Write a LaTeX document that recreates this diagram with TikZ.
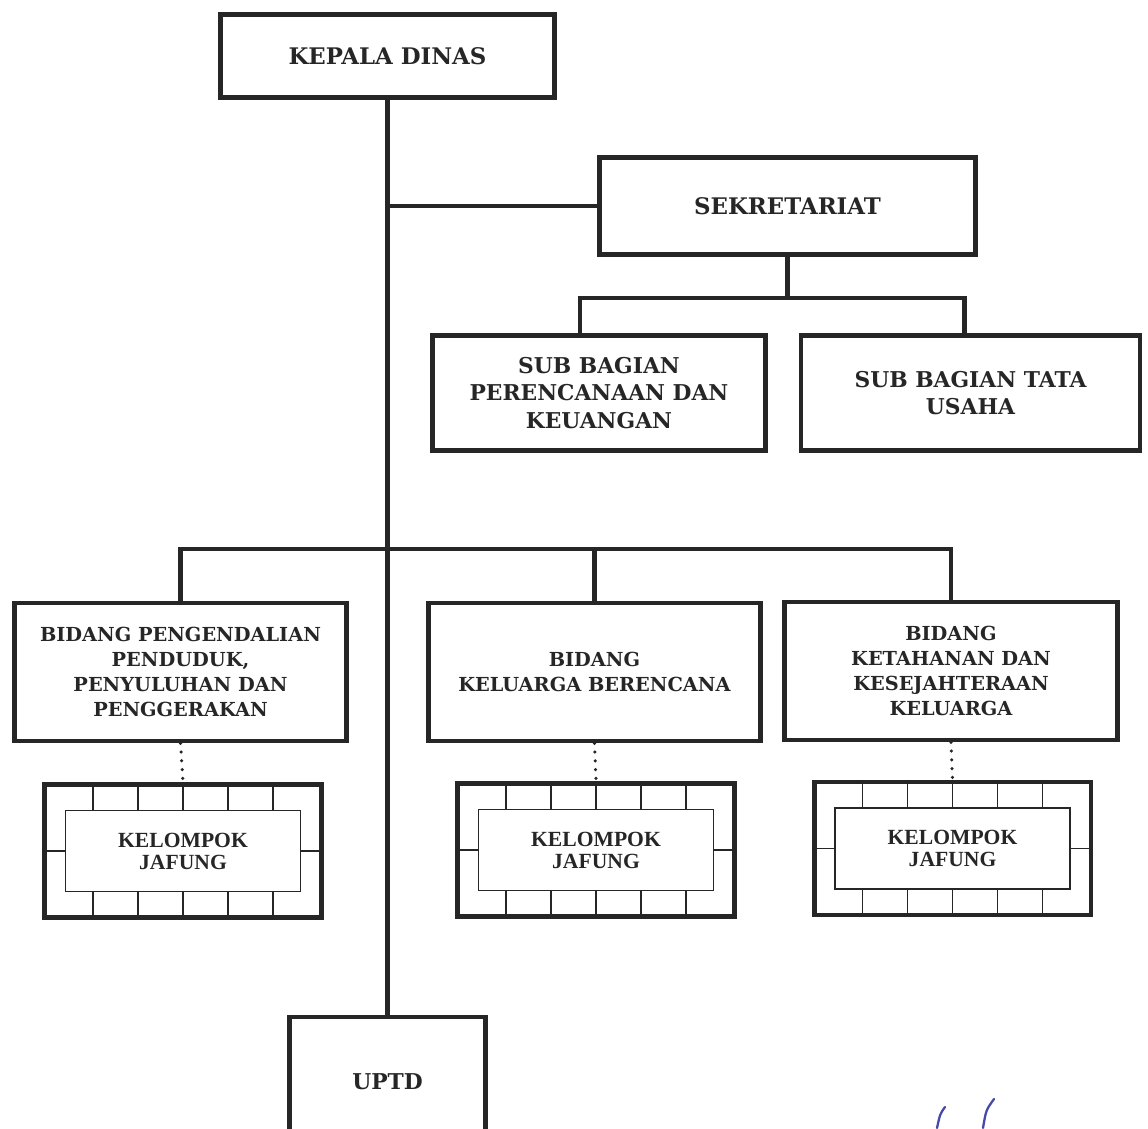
\documentclass[tikz,border=0pt]{standalone}
\usepackage{fontspec}
\setmainfont{DejaVu Serif}
\newfontfamily\jafungfont{Liberation Serif}
\usepackage{tikz}
\usetikzlibrary{positioning,calc}
\definecolor{paraf_c}{RGB}{70,72,170}

\begin{document}
\begin{tikzpicture}[
  x=0.02cm, y=-0.02cm,
  every node/.style={font=\fontsize{11}{14.2}\selectfont\bfseries, text=black!85},
  unit/.style={draw=black!85, line width=2.6pt, align=center, inner sep=2pt},
  topunit/.style={unit, font=\fontsize{13}{16}\selectfont\bfseries},
  subunit/.style={unit, font=\fontsize{12.4}{15.8}\selectfont\bfseries},
  link/.style={draw=black!85, line width=2.3pt},
  dotlink/.style={draw=black!85, line width=2pt, line cap=round, dash pattern=on 0pt off 5pt},
  jafbox/.style={draw=black!85, line width=2.8pt, minimum width=5.54cm, minimum height=2.66cm},
  jafin/.style={draw=black!85, line width=0.8pt, minimum width=4.7cm, minimum height=1.62cm,
                align=center, font=\jafungfont\fontsize{12.3}{12.5}\selectfont\bfseries},
  brick/.style={draw=black!85, line width=0.8pt},
  sign/.style={draw=paraf_c, line width=1.3pt, line cap=round},
]
\useasboundingbox (0,0) rectangle (1148,1128);

% top levels
\node[topunit, minimum width=6.68cm, minimum height=1.66cm] (kadis) at (387.5,56) {KEPALA DINAS};
\node[topunit, minimum width=7.52cm, minimum height=1.94cm] (sekre) at (787.5,206) {SEKRETARIAT};
\node[subunit, minimum width=6.66cm, minimum height=2.3cm] (subren) at (599,393)
  {SUB BAGIAN\\PERENCANAAN DAN\\KEUANGAN};
\node[subunit, minimum width=6.78cm, minimum height=2.3cm] (subtu) at (970.5,393)
  {SUB BAGIAN TATA\\USAHA};

% bidang
\node[unit, minimum width=6.64cm, minimum height=2.76cm] (bid1) at (180.5,672)
  {BIDANG PENGENDALIAN\\PENDUDUK,\\PENYULUHAN DAN\\PENGGERAKAN};
\node[unit, minimum width=6.64cm, minimum height=2.76cm] (bid2) at (594.5,672)
  {BIDANG\\KELUARGA BERENCANA};
\node[unit, minimum width=6.66cm, minimum height=2.76cm] (bid3) at (951,671)
  {BIDANG\\KETAHANAN DAN\\KESEJAHTERAAN\\KELUARGA};

% kelompok jafung
\node[jafbox] (kel1) at (183,851) {};
\node[jafbox] (kel2) at (596,850) {};
\node[jafbox] (kel3) at (952.5,848.5) {};
\node[jafin] (jaf1) at (kel1) {KELOMPOK\\JAFUNG};
\node[jafin] (jaf2) at (kel2) {KELOMPOK\\JAFUNG};
\node[jafin] (jaf3) at (kel3) {KELOMPOK\\JAFUNG};
\foreach \k in {1,2,3} {
  \foreach \dx in {-90,-45,0,45,90} {
    \draw[brick] ($(kel\k.north)+(\dx,0)$) -- ($(jaf\k.north)+(\dx,0)$);
    \draw[brick] ($(jaf\k.south)+(\dx,0)$) -- ($(kel\k.south)+(\dx,0)$);
  }
  \draw[brick] (kel\k.west) -- (jaf\k.west);
  \draw[brick] (jaf\k.east) -- (kel\k.east);
  \draw[dotlink] (bid\k.south) -- (kel\k.north);
}

\node[subunit, minimum width=3.92cm, minimum height=2.6cm] (uptd) at (387.5,1082) {UPTD};

% lines
\draw[link] (kadis.south) -- (uptd.north);
\draw[link] (sekre.west) -- (sekre.west -| kadis.south);
\draw[link] (sekre.south) -- ++(0,41) coordinate (sj);
\draw[link] ([xshift=-0.38cm]subren.north) |- (sj) -| ([xshift=-0.12cm]subtu.north);
\coordinate (bj) at (387.5,549);
\draw[link] (bid1.north) |- (bj) -| (bid3.north);
\draw[link] (bid2.north) -- (bid2.north |- bj);

% paraf
\draw[sign] (945,1107) .. controls (940,1114) .. (937,1128);
\draw[sign] (994,1099) .. controls (986,1110) .. (983,1128);
\end{tikzpicture}
\end{document}
